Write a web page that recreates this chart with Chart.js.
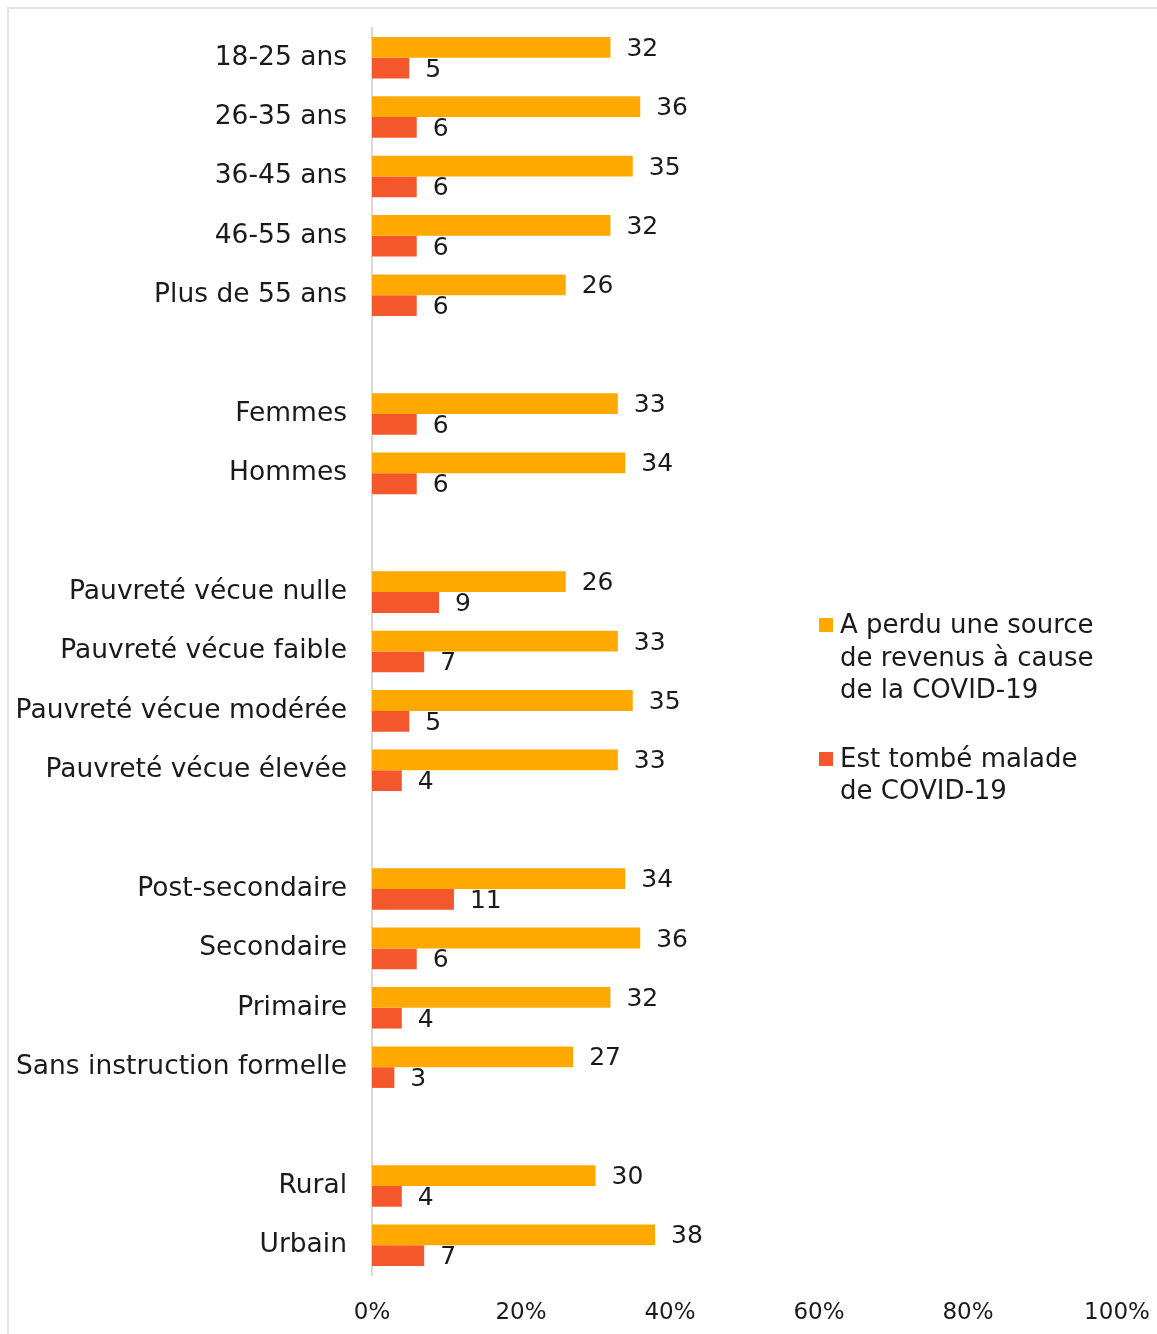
<!DOCTYPE html>
<html>
<head>
<meta charset="utf-8">
<script src="https://cdn.jsdelivr.net/npm/chart.js@4/dist/chart.umd.min.js"></script>
<style>
  body { margin: 0; background: #fff; }
  #wrap { position: relative; width: 1157px; height: 1334px; }
  #frame { position: absolute; left: 7px; top: 7px; width: 1160px; height: 1340px; border: 2px solid #e3e3e3; box-sizing: border-box; }
  #legend { position: absolute; left: 818px; top: 608px; font-family: "DejaVu Sans", sans-serif; font-size: 26px; color: #1a1a1a; line-height: 32.5px; }
  .item { position: relative; padding-left: 22px; margin-bottom: 36px; }
  .sw { position: absolute; left: 1px; top: 10px; width: 14px; height: 14px; }
</style>
</head>
<body>
<div id="wrap">
  <canvas id="myChart" width="1157" height="1334"></canvas>
  <div id="frame"></div>
  <div id="legend">
    <div class="item"><span class="sw" style="background:#ffa800"></span>A perdu une source<br>de revenus à cause<br>de la COVID-19</div>
    <div class="item"><span class="sw" style="background:#f4572c"></span>Est tombé malade<br>de COVID-19</div>
  </div>
</div>
<script>
// catégories (chaînes vides = espaces entre les groupes)
const categories = [
    '18-25 ans', '26-35 ans', '36-45 ans', '46-55 ans', 'Plus de 55 ans', '',
    'Femmes', 'Hommes', '',
    'Pauvreté vécue nulle', 'Pauvreté vécue faible', 'Pauvreté vécue modérée', 'Pauvreté vécue élevée', '',
    'Post-secondaire', 'Secondaire', 'Primaire', 'Sans instruction formelle', '',
    'Rural', 'Urbain'
];
const perteRevenus = [32, 36, 35, 32, 26, null, 33, 34, null, 26, 33, 35, 33, null, 34, 36, 32, 27, null, 30, 38];
const malade = [5, 6, 6, 6, 6, null, 6, 6, null, 9, 7, 5, 4, null, 11, 6, 4, 3, null, 4, 7];
const xTicks = [0, 20, 40, 60, 80, 100];

const police = '"DejaVu Sans", sans-serif';

const etiquettes = {
    id: 'etiquettes',
    afterDatasetsDraw(c) {
        const ctx = c.ctx;
        ctx.save();
        ctx.font = '25px ' + police;
        ctx.fillStyle = '#1a1a1a';
        ctx.textAlign = 'left';
        ctx.textBaseline = 'middle';
        c.data.datasets.forEach((ds, di) => {
            c.getDatasetMeta(di).data.forEach((bar, i) => {
                if (ds.data[i] == null) return;
                ctx.fillText(ds.data[i], bar.x + 16, bar.y + 2);
            });
        });
        ctx.restore();
    }
};

const ctx = document.getElementById('myChart').getContext('2d');
const chart = new Chart(ctx, {
    type: 'bar',
    data: {
        labels: categories,
        datasets: [
            { label: 'A perdu une source de revenus à cause de la COVID-19', data: perteRevenus, backgroundColor: '#ffa800', categoryPercentage: 0.7, barPercentage: 1 },
            { label: 'Est tombé malade de COVID-19', data: malade, backgroundColor: '#f4572c', categoryPercentage: 0.7, barPercentage: 1 }
        ]
    },
    options: {
        indexAxis: 'y',
        responsive: false,
        animation: false,
        layout: { padding: { top: 28, right: 40, bottom: 0, left: 0 } },
        plugins: { legend: { display: false }, tooltip: { enabled: false } },
        scales: {
            y: {
                grid: { display: false },
                border: { display: true, color: '#d9d9d9', width: 2 },
                ticks: { color: '#1a1a1a', font: { family: police, size: 26.5 }, padding: 17, autoSkip: false },
                afterFit(s) { s.width = 372; s.paddingTop = 0; s.paddingBottom = 0; }
            },
            x: {
                min: 0, max: 100,
                grid: { display: false },
                border: { display: false },
                afterBuildTicks(s) { s.ticks = xTicks.map(v => ({ value: v })); },
                ticks: { color: '#1a1a1a', font: { family: police, size: 23 }, padding: 16, callback: v => v + '%' },
                afterFit(s) { s.height = 59; s.paddingLeft = 0; s.paddingRight = 0; }
            }
        }
    },
    plugins: [etiquettes]
});
</script>
</body>
</html>
